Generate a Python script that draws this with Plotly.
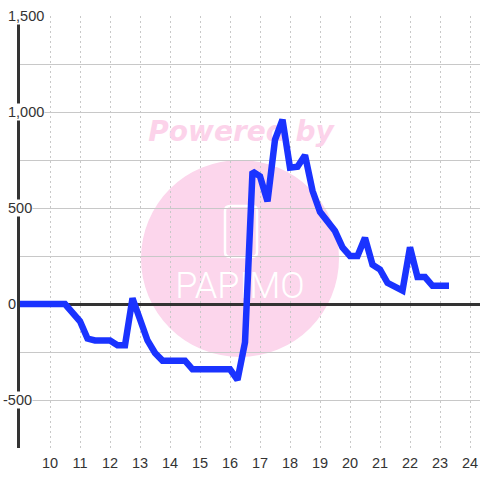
import plotly.graph_objects as go

# ---- data ----
hours = [9.0, 10.5, 11.0, 11.25, 11.5, 12.0, 12.25, 12.5, 12.75, 13.25, 13.5, 13.75,
         14.5, 14.75, 16.0, 16.25, 16.5, 16.75, 17.0, 17.25, 17.5, 17.75, 18.0, 18.25,
         18.5, 18.75, 19.0, 19.25, 19.5, 19.75, 20.0, 20.25, 20.5, 20.75, 21.0, 21.25,
         21.5, 21.75, 22.0, 22.25, 22.5, 22.75, 23.3]
values = [0, 0, -90, -180, -190, -190, -215, -215, 30, -190, -255, -295,
          -295, -340, -340, -395, -200, 690, 665, 535, 855, 960, 710, 715,
          775, 590, 480, 435, 380, 295, 250, 250, 345, 205, 180, 110,
          85, 70, 295, 140, 140, 95, 95]
x_ticks = list(range(10, 25))
y_label_values = [1500, 1000, 500, 0, -500]

# ---- layout geometry (pixels) ----
W, H = 480, 480
ML, MR, MT, MB = 20, 0, 16, 32
PW, PH = W - ML - MR, H - MT - MB

def px_x(p):
    return (p - ML) / PW

def px_y(p):
    return (H - MB - p) / PH

fig = go.Figure()

# watermark texts (drawn beneath the data line)
fig.add_trace(go.Scatter(
    x=[16.37], y=[885], mode="text", text=["Powered by"],
    textfont=dict(family="DejaVu Sans", size=28, color="#fcd3ea",
                  weight="bold", style="italic"),
    hoverinfo="skip", showlegend=False))
fig.add_trace(go.Scatter(
    x=[16.33], y=[78], mode="text", text=["PAPIMO"],
    textfont=dict(family="Roboto", size=36, color="#ffffff", weight=300),
    hoverinfo="skip", showlegend=False))

fig.add_trace(go.Scatter(
    x=hours, y=values, mode="lines",
    line=dict(color="#1a33ff", width=6.5),
    hoverinfo="skip", showlegend=False))

shapes = [
    dict(type="circle", xref="paper", yref="paper",
         x0=px_x(141), x1=px_x(339), y0=px_y(357), y1=px_y(160),
         fillcolor="#fcd6ec", line=dict(width=0), layer="below"),
]
# rounded rect logo outline
rx0, rx1, ry0, ry1, r = 225, 257, 206, 257, 5
def P(xp, yp):
    return f"{px_x(xp):.5f},{px_y(yp):.5f}"
path = (f"M {P(rx0 + r, ry0)} L {P(rx1 - r, ry0)} Q {P(rx1, ry0)} {P(rx1, ry0 + r)} "
        f"L {P(rx1, ry1 - r)} Q {P(rx1, ry1)} {P(rx1 - r, ry1)} "
        f"L {P(rx0 + r, ry1)} Q {P(rx0, ry1)} {P(rx0, ry1 - r)} "
        f"L {P(rx0, ry0 + r)} Q {P(rx0, ry0)} {P(rx0 + r, ry0)} Z")
shapes.append(dict(type="path", xref="paper", yref="paper", path=path,
                   line=dict(color="#ffffff", width=2.5), layer="below"))

annotations = []
for v in y_label_values:
    left_px = 7 - (5 if v < 0 else 0)
    annotations.append(dict(
        x=px_x(left_px), xref="paper", xanchor="left",
        y=v, yref="y", yanchor="middle",
        text=f"{v:,}", showarrow=False, bgcolor="#ffffff", borderpad=0,
        font=dict(family="Liberation Sans", size=14.5, color="#333333")))

fig.update_layout(
    width=W, height=H,
    margin=dict(l=ML, r=MR, t=MT, b=MB, autoexpand=False),
    paper_bgcolor="#ffffff", plot_bgcolor="#ffffff",
    shapes=shapes, annotations=annotations,
    font=dict(family="Liberation Sans", size=14.5, color="#333333"),
    xaxis=dict(range=[9, 24.3333], tickvals=x_ticks, ticktext=[str(t) for t in x_ticks],
               showgrid=True, gridcolor="#c8c8c8", gridwidth=1, griddash="2px,3px",
               showline=False, zeroline=False, ticks="", ticklabelstandoff=4,
               automargin=False,
               tickfont=dict(family="Liberation Sans", size=14.5, color="#333333")),
    yaxis=dict(range=[-750, 1500], dtick=250, tick0=0, showticklabels=False,
               showgrid=True, gridcolor="#c8c8c8", gridwidth=1,
               zeroline=True, zerolinecolor="#333333", zerolinewidth=3,
               showline=True, linecolor="#333333", linewidth=3, ticks="",
               automargin=False),
)

fig.write_html("out.html", config={"displayModeBar": False},
               post_script="document.body.style.margin='0';document.body.style.overflow='hidden';")
